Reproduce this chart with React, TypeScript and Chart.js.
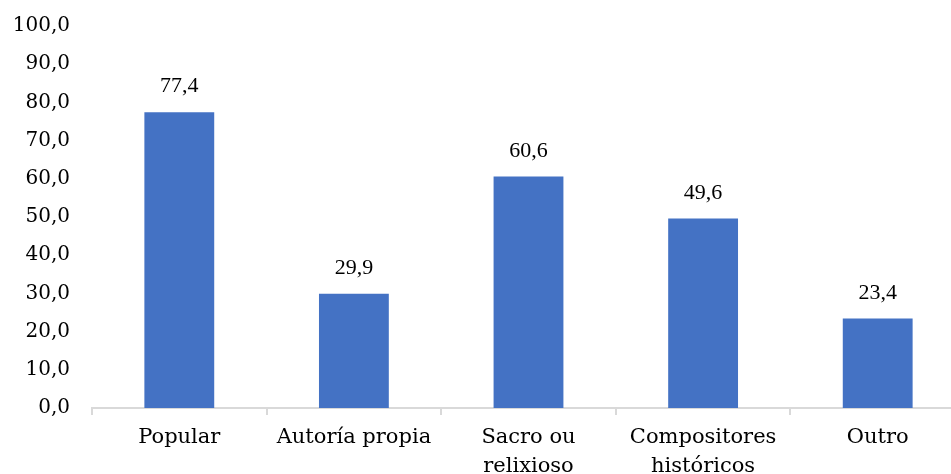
import React, { useEffect, useRef } from "react";
import { Chart, registerables } from "chart.js";

Chart.register(...registerables);

const categories: (string | string[])[] = [
  "Popular",
  "Autoría propia",
  ["Sacro ou", "relixioso"],
  ["Compositores", "históricos"],
  "Outro",
];
const values = [77.4, 29.9, 60.6, 49.6, 23.4];
const yMin = 0;
const yMax = 100;
const yStep = 10;

const FONT = "'DejaVu Serif', serif";
const LABEL_FONT = "'Liberation Serif', serif";
const fmt = (v: number) => v.toFixed(1).replace(".", ",");

const labelPlugin = {
  id: "barLabels",
  afterDatasetsDraw(chart: any) {
    const ctx = chart.ctx;
    const meta = chart.getDatasetMeta(0);
    ctx.save();
    ctx.font = `22px ${LABEL_FONT}`;
    ctx.fillStyle = "#000";
    ctx.textAlign = "center";
    ctx.textBaseline = "alphabetic";
    meta.data.forEach((bar: any, i: number) => {
      ctx.fillText(fmt(values[i]), bar.x, bar.y - 20);
    });
    ctx.restore();
  },
};

export default function App() {
  const ref = useRef<HTMLCanvasElement>(null);
  useEffect(() => {
    if (!ref.current) return;
    const chart = new Chart(ref.current, {
      type: "bar",
      data: {
        labels: categories,
        datasets: [
          {
            data: values,
            backgroundColor: "#4472C4",
            barPercentage: 0.4,
            categoryPercentage: 1,
          },
        ],
      },
      options: {
        animation: false,
        responsive: false,
        maintainAspectRatio: false,
        layout: { padding: { top: 21, right: 15, left: 0, bottom: 0 } },
        plugins: { legend: { display: false }, tooltip: { enabled: false } },
        scales: {
          x: {
            grid: {
              display: true,
              drawOnChartArea: false,
              drawTicks: true,
              tickLength: 7,
              color: "#d9d9d9",
              lineWidth: 2,
            },
            border: { display: true, color: "#d9d9d9", width: 2 },
            ticks: {
              color: "#000",
              font: { family: FONT, size: 21, lineHeight: 1.38 },
              padding: 8,
              maxRotation: 0,
              autoSkip: false,
            },
            afterFit: (s: any) => {
              s.height = 66;
            },
          },
          y: {
            min: yMin,
            max: yMax,
            grid: { display: false },
            border: { display: false },
            ticks: {
              stepSize: yStep,
              color: "#000",
              font: { family: FONT, size: 20 },
              padding: 14,
              callback: (v: any) => fmt(Number(v)),
            },
            afterFit: (s: any) => {
              s.width = 92;
            },
          },
        },
      },
      plugins: [labelPlugin],
    });
    return () => chart.destroy();
  }, []);
  return (
    <div style={{ position: "fixed", left: 0, top: 0, width: 951, height: 474, overflow: "hidden", background: "#fff" }}>
      <canvas ref={ref} width={980} height={474} style={{ display: "block" }} />
    </div>
  );
}
